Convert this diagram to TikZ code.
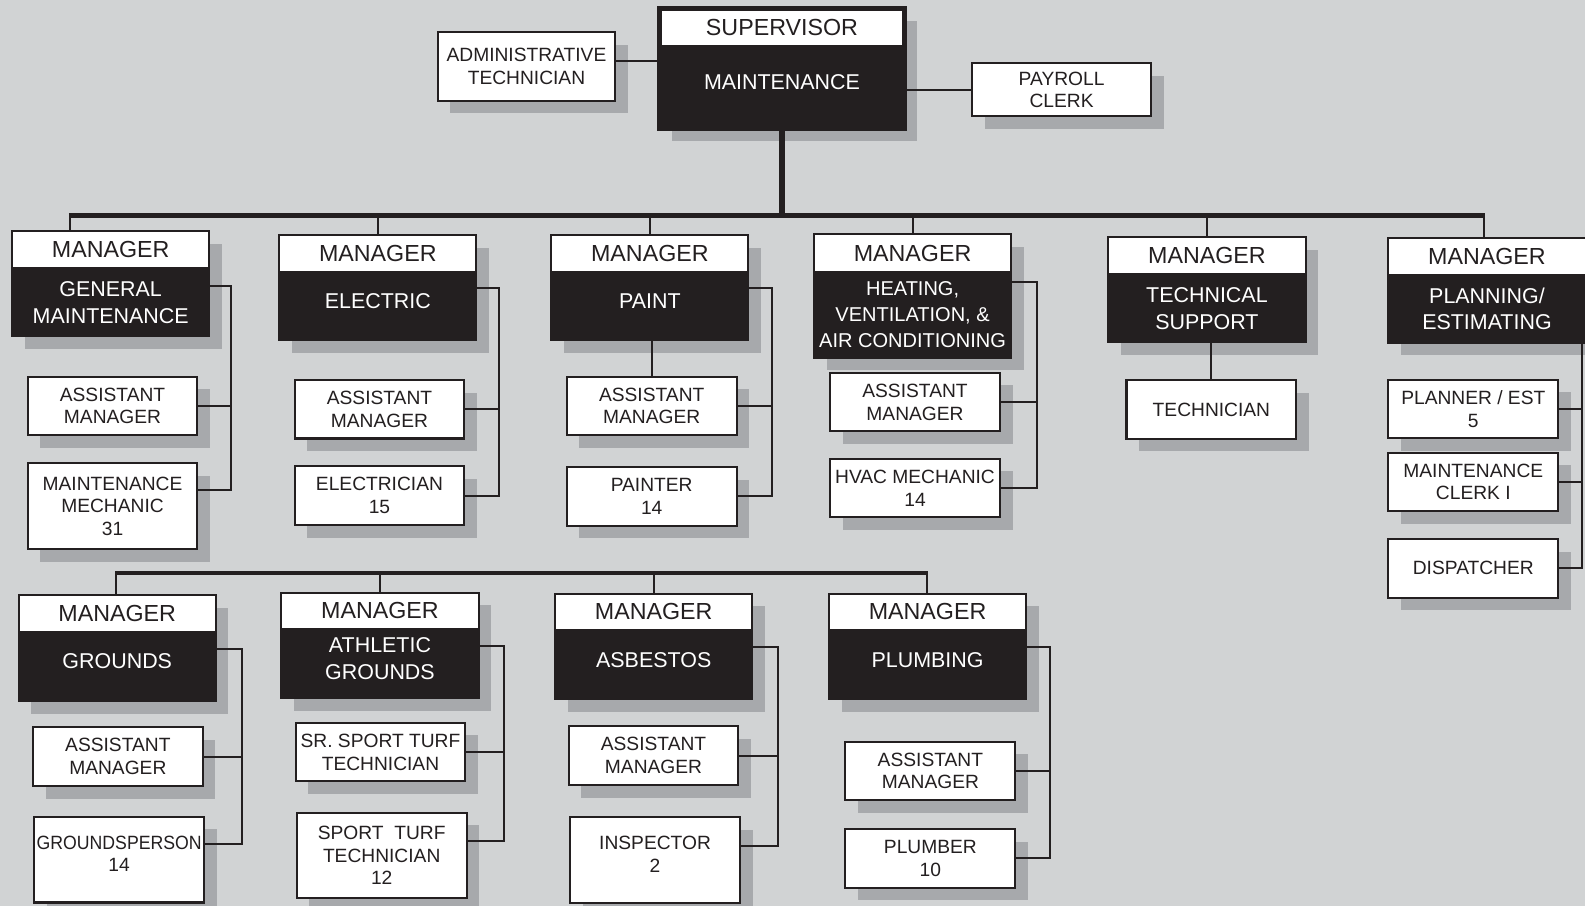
\documentclass[tikz,border=0pt]{standalone}
\usepackage{fontspec}
\setmainfont{Liberation Sans}
\usepackage{graphicx}
\usetikzlibrary{positioning,shadows}
\definecolor{bg}{HTML}{D1D3D4}
\definecolor{shadowgray}{HTML}{A7A9AC}
\definecolor{ink}{HTML}{231F20}
\begin{document}
\begin{tikzpicture}[x=1pt,y=-1pt,
    boxshadow/.style={drop shadow={shadow xshift=12.5pt,shadow yshift=-12.5pt,opacity=1,fill=shadowgray}},
    sub/.style={draw=ink,fill=white,line width=2pt,boxshadow,inner sep=0pt,outer sep=0pt,
      minimum width=168pt,minimum height=58pt,align=center,text=ink,
      font=\fontsize{19}{22.5}\selectfont},
    tall/.style={sub,minimum height=85pt},
    mhead/.style={draw=ink,fill=white,line width=2pt,boxshadow,inner sep=0pt,outer sep=0pt,
      minimum width=195pt,minimum height=37pt,text=ink,font=\fontsize{23}{27}\selectfont},
    mbody/.style={draw=ink,fill=ink,line width=2pt,boxshadow,inner sep=0pt,outer sep=0pt,
      minimum width=195pt,minimum height=67pt,align=center,text=white,
      font=\fontsize{21.2}{26.5}\selectfont},
    conn/.style={draw=ink,line width=2pt},
    bus/.style={draw=ink,line width=5pt}]
  \useasboundingbox (0,0) rectangle (1568,896);
  \clip (0,0) rectangle (1568,896);
  \fill[bg] (0,0) rectangle (1568,896);

  % top
  \node[mhead,line width=4.6pt,minimum width=242.6pt,minimum height=38.6pt] (suph) at (773.6,27.5) {SUPERVISOR};
  \node[mbody,line width=4.6pt,minimum width=242.6pt,minimum height=80.5pt,below=0pt of suph] (sup) {MAINTENANCE\\[-14.5pt]\mbox{}};
  \node[sub,minimum width=175.6pt,minimum height=67.9pt] (adm) at (520.8,65.7) {ADMINISTRATIVE\\TECHNICIAN};
  \node[sub,minimum width=176.9pt,minimum height=52.3pt] (pay) at (1050.2,88.9) {PAYROLL\\CLERK};

  % first row
  \node[mhead] (gmh) at (109.5,247) {MANAGER};
  \node[mbody,below=0pt of gmh] (gm) {GENERAL\\MAINTENANCE};
  \node[sub] (gmam) at (111.3,401.5) {ASSISTANT\\MANAGER};
  \node[tall] (gmmm) at (111.3,500.7) {MAINTENANCE\\MECHANIC\\31};

  \node[mhead] (elh) at (373.8,251) {MANAGER};
  \node[mbody,below=0pt of elh] (el) {ELECTRIC\\[-16.5pt]\mbox{}};
  \node[sub] (elam) at (375.4,404.8) {ASSISTANT\\MANAGER};
  \node[sub] (elec) at (375.4,490.4) {ELECTRICIAN\\15};

  \node[mhead] (pth) at (642.9,251) {MANAGER};
  \node[mbody,below=0pt of pth] (pt) {PAINT\\[-16.5pt]\mbox{}};
  \node[sub] (ptam) at (644.7,401.5) {ASSISTANT\\MANAGER};
  \node[sub] (ptr) at (644.7,491) {PAINTER\\14};

  \node[mhead] (hvh) at (902.8,250.3) {MANAGER};
  \node[mbody,below=0pt of hvh,minimum height=85pt,font=\fontsize{19.8}{26}\selectfont] (hv) {HEATING,\\VENTILATION, \&\\AIR CONDITIONING};
  \node[sub] (hvam) at (905.2,397.8) {ASSISTANT\\MANAGER};
  \node[sub] (hvm) at (905.2,482.8) {HVAC MECHANIC\\14};

  \node[mhead] (tsh) at (1194,253) {MANAGER};
  \node[mbody,below=0pt of tsh] (ts) {TECHNICAL\\SUPPORT};
  \node[sub] (tech) at (1198.4,405.1) {TECHNICIAN};

  \node[mhead] (peh) at (1471,253.5) {MANAGER};
  \node[mbody,below=0pt of peh] (pe) {PLANNING/\\ESTIMATING};
  \node[sub] (plan) at (1457.5,404.7) {PLANNER / EST\\5};
  \node[sub] (clk) at (1457.5,476.8) {MAINTENANCE\\CLERK I};
  \node[sub] (dsp) at (1457.5,562.2) {DISPATCHER};

  % second row
  \node[mhead,minimum height=36pt] (grh) at (116,607) {MANAGER};
  \node[mbody,below=0pt of grh,minimum height=68.5pt] (gr) {GROUNDS\\[-16.5pt]\mbox{}};
  \node[sub] (gram) at (116.6,748.5) {ASSISTANT\\MANAGER};
  \node[tall] (grp) at (117.9,850.3) {\scalebox{0.92}[1]{GROUNDSPERSON}\\14\\[-11pt]\mbox{}};

  \node[mhead,minimum height=36pt] (agh) at (375.9,604.3) {MANAGER};
  \node[mbody,below=0pt of agh,minimum height=68.5pt] (ag) {ATHLETIC\\GROUNDS\\[-16.5pt]\mbox{}};
  \node[sub] (agsr) at (376.4,744) {SR. SPORT TURF\\TECHNICIAN};
  \node[tall] (agst) at (377.6,846.3) {SPORT\ \ TURF\\TECHNICIAN\\12};

  \node[mhead,minimum height=36pt] (ash) at (646.7,605.4) {MANAGER};
  \node[mbody,below=0pt of ash,minimum height=68.5pt] (as) {ASBESTOS\\[-16.5pt]\mbox{}};
  \node[sub] (asam) at (646.5,747.6) {ASSISTANT\\MANAGER};
  \node[tall] (insp) at (648,851) {INSPECTOR\\2\\[-11pt]\mbox{}};

  \node[mhead,minimum height=36pt] (plh) at (917.6,605.4) {MANAGER};
  \node[mbody,below=0pt of plh,minimum height=68.5pt] (pl) {PLUMBING\\[-16.5pt]\mbox{}};
  \node[sub] (plam) at (920.4,762.7) {ASSISTANT\\MANAGER};
  \node[sub] (plmb) at (920.4,849.1) {PLUMBER\\10};

  % buses
  \coordinate (b1w) at (69.2,213.5);
  \coordinate (b1e) at (1468,213.5);
  \coordinate (b2w) at (114.8,567.2);
  \coordinate (b2e) at (917.2,567.2);
  \draw[bus] (sup.south) -- (sup.south |- b1w);
  \draw[bus,shorten <=-1pt,shorten >=-1pt] (b1w) -- (b1e);
  \draw[bus,line width=4pt,shorten <=-1pt,shorten >=-1pt] (b2w) -- (b2e);
  \draw[conn] (b1w) -- (b1w |- gmh.north);
  \draw[conn] (elh.north) -- (elh.north |- b1w);
  \draw[conn] (pth.north) -- (pth.north |- b1w);
  \draw[conn] (hvh.north) -- (hvh.north |- b1w);
  \draw[conn] (tsh.north) -- (tsh.north |- b1w);
  \draw[conn] (b1e) -- (b1e |- peh.north);
  \draw[conn] (b2w) -- (b2w |- grh.north);
  \draw[conn] (agh.north) -- (agh.north |- b2w);
  \draw[conn] (ash.north) -- (ash.north |- b2w);
  \draw[conn] (b2e) -- (b2e |- plh.north);

  % side staff
  \draw[conn] (adm.east |- 0,60.3) -- (sup.west |- 0,60.3);
  \draw[conn] (pay.west) -- (pay.west -| sup.east);

  % staff lines
  \draw[conn] (gm.east |- 0,282.6) -| ([yshift=16pt]gmmm.east -| 228.5,0) -- ([yshift=16pt]gmmm.east);
  \draw[conn] (gmam.east) -- (gmam.east -| 228.5,0);
  \draw[conn] (el.east |- 0,285.2) -| (elec.east -| 493.6,0) -- (elec.east);
  \draw[conn] (elam.east) -- (elam.east -| 493.6,0);
  \draw[conn] (pt.east |- 0,285.2) -| (ptr.east -| 763.4,0) -- (ptr.east);
  \draw[conn] (ptam.east) -- (ptam.east -| 763.4,0);
  \draw[conn] (ptam.north) -- (ptam.north |- pt.south);
  \draw[conn] (hv.east |- 0,278.6) -| (hvm.east -| 1026,0) -- (hvm.east);
  \draw[conn] (hvam.east) -- (hvam.east -| 1026,0);
  \draw[conn] (tech.north) -- (tech.north |- ts.south);
  \draw[conn] (pe.south -| 1564.6,0) |- (dsp.east);
  \draw[conn] (plan.east) -- (plan.east -| 1564.6,0);
  \draw[conn] (clk.east) -- (clk.east -| 1564.6,0);
  \draw[conn] (gr.east |- 0,642.3) -| ([yshift=15pt]grp.east -| 239.7,0) -- ([yshift=15pt]grp.east);
  \draw[conn] (gram.east) -- (gram.east -| 239.7,0);
  \draw[conn] (ag.east |- 0,638.7) -| ([yshift=14pt]agst.east -| 498.6,0) -- ([yshift=14pt]agst.east);
  \draw[conn] (agsr.east) -- (agsr.east -| 498.6,0);
  \draw[conn] (as.east |- 0,640.2) -| ([yshift=14pt]insp.east -| 770.1,0) -- ([yshift=14pt]insp.east);
  \draw[conn] (asam.east) -- (asam.east -| 770.1,0);
  \draw[conn] (pl.east |- 0,640.2) -| (plmb.east -| 1038.7,0) -- (plmb.east);
  \draw[conn] (plam.east) -- (plam.east -| 1038.7,0);
\end{tikzpicture}
\end{document}
